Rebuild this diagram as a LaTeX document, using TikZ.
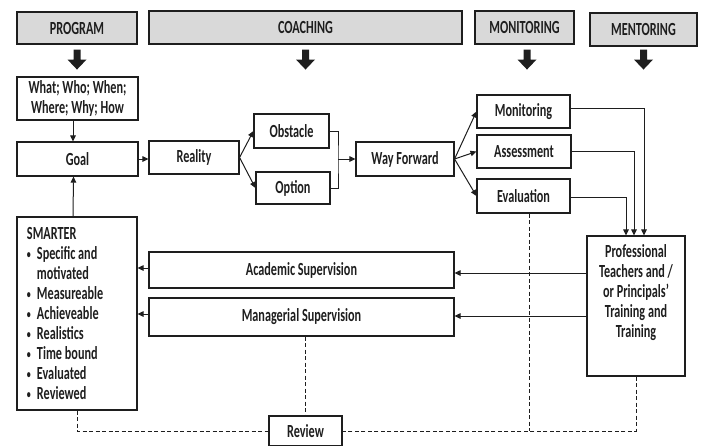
\documentclass[tikz,border=0pt]{standalone}
\usepackage{fontspec}
\setmainfont{Carlito}[FakeStretch=0.66]
\usetikzlibrary{arrows.meta}
\definecolor{hdr}{HTML}{D9D9D9}
\definecolor{ink}{HTML}{1E1E1E}
\newcommand\smbul{\makebox[10pt][l]{\raisebox{0.12ex}{\fontsize{12}{12}\selectfont •}}}
\begin{document}
\begin{tikzpicture}[x=1pt,y=-1pt,
  every node/.style={font=\bfseries\fontsize{18.5}{20}\selectfont, text=ink},
  box/.style={draw=ink, line width=1.1pt, inner sep=0pt, align=center},
  hdrbox/.style={box, fill=hdr},
  arr/.style={draw=ink, line width=1pt, -{Triangle[length=6pt,width=5.5pt]}},
  conn/.style={draw=ink, line width=1pt},
  dashline/.style={draw=ink, line width=0.8pt, dash pattern=on 4pt off 2.5pt},
  bigarrow/.pic={\fill[ink] (-3.5,0) -- (3.5,0) -- (3.5,10) -- (9.5,10) -- (0,20) -- (-9.5,10) -- (-3.5,10) -- cycle;}
]
\useasboundingbox (0,0) rectangle (702,445);
\clip (0,0) rectangle (702,445);

% headers
\node[hdrbox, minimum width=120pt, minimum height=32pt] (hprog) at (77,28) {PROGRAM};
\node[hdrbox, minimum width=313pt, minimum height=33pt] (hcoach) at (305.5,27.5) {COACHING};
\node[hdrbox, minimum width=99pt, minimum height=33pt] (hmon) at (524.5,27.5) {MONITORING};
\node[hdrbox, minimum width=107pt, minimum height=33pt] (hment) at (643.5,29.5) {MENTORING};

\pic at ([yshift=-5pt]hprog.south) {bigarrow};
\pic at ([yshift=-5pt]hcoach.south) {bigarrow};
\pic at ([xshift=2.5pt,yshift=-5pt]hmon.south) {bigarrow};
\pic at ([yshift=-3pt]hment.south) {bigarrow};

% left column
\node[box, minimum width=121pt, minimum height=43pt] (what) at (77.5,98.5) {What; Who; When;\\Where; Why; How};
\node[box, minimum width=121pt, minimum height=34pt] (goal) at (77.5,159) {Goal};
\node[box, minimum width=120pt, minimum height=193pt, align=left, text width=100pt] (smarter) at (77,313.5)
  {\spaceskip=0pt\relax SMARTER\\ \smbul Specific and\\ \hspace*{10pt}motivated\\ \smbul Measureable\\ \smbul Achieveable\\ \smbul Realistics\\ \smbul Time bound\\ \smbul Evaluated\\ \smbul Reviewed};

% coaching row
\node[box, minimum width=90pt, minimum height=33pt] (reality) at (194,157.5) {Reality};
\node[box, minimum width=75pt, minimum height=34pt] (obstacle) at (291.5,131) {Obstacle};
\node[box, minimum width=74pt, minimum height=32pt] (option) at (293,188) {Option};
\node[box, minimum width=98pt, minimum height=34pt] (wayf) at (405,159) {Way Forward};
\coordinate (brk) at (338,159);

% monitoring column
\node[box, minimum width=93pt, minimum height=33pt] (monit) at (523.5,111.5) {Monitoring};
\node[box, minimum width=94pt, minimum height=33pt] (assess) at (524,151.5) {Assessment};
\node[box, minimum width=93pt, minimum height=34pt] (evalu) at (523.5,196) {Evaluation};

% mentoring
\node[box, minimum width=98pt, minimum height=140pt] (prof) at (636,306) {};
\node[align=center, inner sep=0pt] (proftext) at (636,293) {Professional\\Teachers and /\\or Principals\char"0027\\Training and\\Training};

% supervision
\node[box, minimum width=305pt, minimum height=36pt] (acad) at (301.5,270) {Academic Supervision};
\node[box, minimum width=305pt, minimum height=38pt] (manag) at (301.5,317) {Managerial Supervision};

\node[box, minimum width=73pt, minimum height=30pt] (review) at (305.5,431) {Review};

% connectors
\draw[arr] ([xshift=-4.5pt]what.south) -- ([xshift=-4.5pt]goal.north);
\draw[arr] ([xshift=-4pt]smarter.north) -- ([xshift=-4pt]goal.south);
\draw[arr] (goal.east) -- (goal.east -| reality.west);
\draw[arr] (reality.east) -- (obstacle.west);
\draw[arr] (reality.east) -- (option.west);
\draw[conn] (obstacle.east) -| (brk) |- (option.east);
\draw[arr] (brk) -- (wayf.west);
\draw[arr] (wayf.east) -- (monit.west);
\draw[arr] (wayf.east) -- (assess.west);
\draw[arr] (wayf.east) -- (evalu.west);
\draw[arr] ([yshift=3.5pt]monit.east) -| ([xshift=8pt]prof.north);
\draw[arr] (assess.east) -| ([xshift=-2pt]prof.north);
\draw[arr] ([yshift=-1pt]evalu.east) -| ([xshift=-10pt]prof.north);
\draw[arr] (prof.west |- 0,273) -- (acad.east |- 0,273);
\draw[arr] (prof.west |- 0,316) -- (manag.east |- 0,316);
\draw[arr] (acad.west |- 0,268) -- (smarter.east |- 0,268);
\draw[arr] (manag.west |- 0,314) -- (smarter.east |- 0,314);

% dashed review lines
\draw[dashline] (smarter.south) |- (review.west);
\draw[dashline] (review.north |- manag.south) -- (review.north);
\draw[dashline] ([xshift=5.5pt]evalu.south) -- ([xshift=5.5pt]evalu.south |- review.east);
\draw[dashline] (prof.south) |- (review.east);
\end{tikzpicture}
\end{document}
